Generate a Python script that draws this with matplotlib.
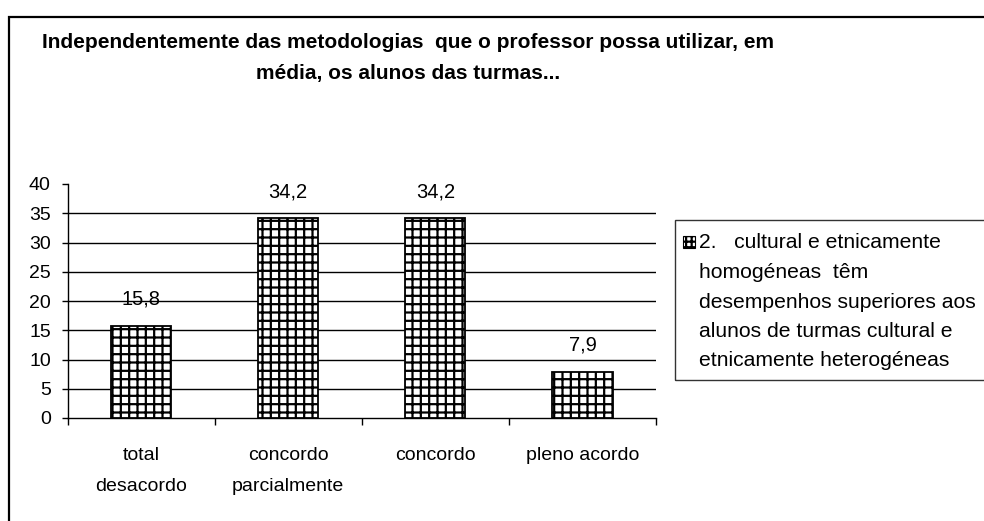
import matplotlib
matplotlib.use("Agg")
import matplotlib.pyplot as plt
from matplotlib.patches import Rectangle

plt.rcParams['font.family'] = ['Liberation Sans', 'DejaVu Sans']
plt.rcParams['hatch.linewidth'] = 1.6

# dados
categorias = ['total\ndesacordo', 'concordo\nparcialmente', 'concordo', 'pleno acordo']
valores = [15.8, 34.2, 34.2, 7.9]
rotulos = ['15,8', '34,2', '34,2', '7,9']
y_ticks = [0, 5, 10, 15, 20, 25, 30, 35, 40]
titulo = ('Independentemente das metodologias  que o professor possa utilizar, em\n'
          'média, os alunos das turmas...')
legenda = ('2.   cultural e etnicamente\nhomogéneas  têm\ndesempenhos superiores aos\n'
           'alunos de turmas cultural e\netnicamente heterogéneas')

W, H = 984, 521
fig = plt.figure(figsize=(W / 100, H / 100), dpi=100)

def fx(px):
    return px / W

def fy(py):
    return 1 - py / H

# moldura exterior
fig.add_artist(Rectangle((fx(8.5), -0.2), 1.2, fy(16.5) + 0.2, transform=fig.transFigure,
                         fill=False, edgecolor='black', linewidth=1.6))

ax = fig.add_axes([fx(67.5), fy(418), fx(656) - fx(67.5), fy(184) - fy(418)])
x = list(range(len(valores)))
ax.bar(x, valores, width=0.41, color='white', edgecolor='black', linewidth=1.3, hatch='++',
       zorder=3)
for xi, v, r in zip(x, valores, rotulos):
    ax.annotate(r, (xi, v), xytext=(0, 19), textcoords='offset points', ha='center',
                va='center', fontsize=14.5)

ax.set_xlim(-0.5, 3.5)
ax.set_ylim(0, 40)
ax.set_yticks(y_ticks)
ax.set_yticklabels([str(t) for t in y_ticks], fontsize=14)
ax.tick_params(axis='y', direction='out', length=4, width=1, pad=8)
ax.set_xticks(x)
ax.set_xticklabels(categorias, fontsize=14, linespacing=2.1, va='top')
ax.set_xticks([-0.5, 0.5, 1.5, 2.5, 3.5], minor=True)
ax.tick_params(axis='x', which='major', length=0, pad=21)
ax.tick_params(axis='x', which='minor', direction='out', length=5, width=1)
for t in y_ticks[1:-1]:
    ax.axhline(t, color='black', linewidth=1, zorder=1)
for s in ['top', 'right']:
    ax.spines[s].set_visible(False)
ax.spines['left'].set_linewidth(1)
ax.spines['bottom'].set_linewidth(1)

# titulo
fig.text(fx(408), fy(58), titulo, ha='center', va='center', fontsize=15,
         fontweight='bold', linespacing=1.75)

# legenda
fig.add_artist(Rectangle((fx(674.5), fy(380)), 0.5, fy(220) - fy(380), transform=fig.transFigure,
                         fill=False, edgecolor='#333333', linewidth=1))
fig.add_artist(Rectangle((fx(683), fy(248)), fx(12), fy(236) - fy(248), transform=fig.transFigure,
                         facecolor='white', edgecolor='black', linewidth=0.8, hatch='+++'))
fig.text(fx(699), fy(302), legenda, ha='left', va='center', fontsize=15.2, linespacing=1.7,
         transform=fig.transFigure)

fig.savefig('out.png', dpi=100)
